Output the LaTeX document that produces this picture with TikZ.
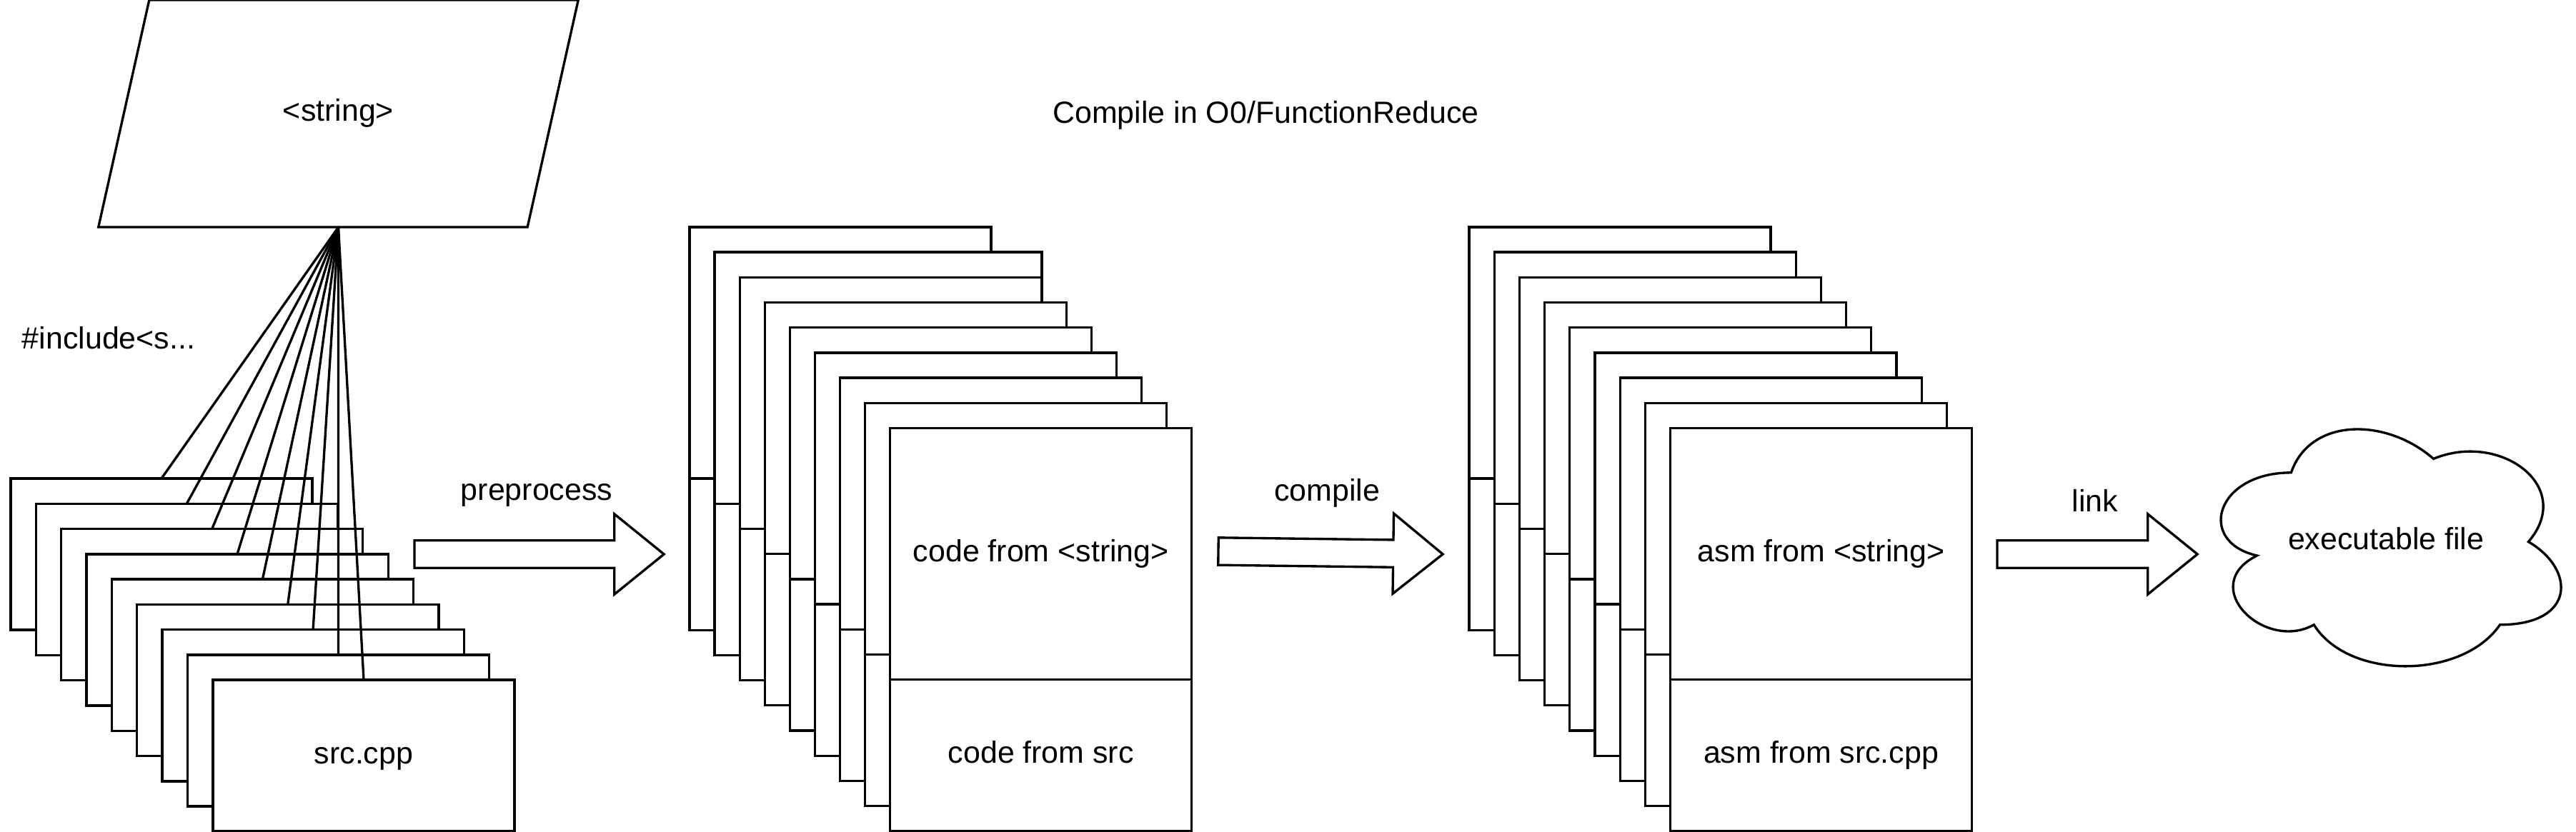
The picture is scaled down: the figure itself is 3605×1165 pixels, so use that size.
\documentclass[tikz,border=0pt]{standalone}
\usepackage{fontspec}
\setmainfont{Liberation Sans}
\usetikzlibrary{positioning, shapes.geometric, shapes.arrows}

\begin{document}
\begin{tikzpicture}[x=0.01cm, y=-0.01cm,
    every node/.style={font=\fontsize{12.2}{14.6}\selectfont, inner sep=0pt, outer sep=0pt, text height=0.31cm, text depth=0.09cm},
    box/.style={draw, line width=0.95pt, fill=white},
    file/.style={box, minimum width=4.22cm, minimum height=2.12cm},
    part/.style={box, minimum width=#1*0.01cm, minimum height=3.52cm},
    lower/.style={box, minimum width=#1*0.01cm, minimum height=2.12cm},
    fat/.style={box, single arrow, single arrow head extend=0.37cm, single arrow tip angle=78,
        minimum width=0pt, minimum height=#1, text height=0.35cm, text depth=0pt, anchor=tail},
    wire/.style={line width=0.95pt}]

    \useasboundingbox (0,0) rectangle (3605,1165);

    \node (title) at (1771.5,161.5) {Compile in O0/FunctionReduce};
    \node[box, trapezium, trapezium left angle=77.4, trapezium right angle=102.6,
        text width=5.29cm, align=center, text height=1.70cm, text depth=1.48cm] (str) at (473.5,159) {<string>};
    \node[anchor=west] (inc) at (31,478) {\#include<s...};

    % source files
    \foreach \i in {0,...,7}
        \node[file] (src\i) at ({226+35.35*\i},{776+35.3*\i}) {};
    \node[file] (src8) at (509,1058) {src.cpp};
    \foreach \i in {0,...,8}
        \draw[wire] (str.south) -- (src\i.north);

    % preprocess
    \node[fat=3.49cm] (pre) at (580,776) {};
    \node (prelbl) at (751,690) {preprocess};

    % preprocessed code
    \foreach \i/\w in {0/422,1/458,2/422,3/422,4/422,5/422,6/422,7/422} {
        \node[part=\w] (code\i) at ({965+35.1*\i+\w/2},{494+35.2*\i}) {};
        \node[lower=\w, below=0pt of code\i] (codesrc\i) {};
    }
    \node[part=422] (code8) at (1456.8,775.6) {code from <string>};
    \node[lower=422, below=0pt of code8] (codesrc8) {code from src};

    % compile
    \node[fat=3.14cm, rotate=-0.73] (cmp) at (1705,772) {};
    \node (cmplbl) at (1857,691) {compile};

    % assembly
    \foreach \i in {0,...,7} {
        \node[part=422] (asm\i) at ({2267+35.2*\i},{494+35.2*\i}) {};
        \node[lower=422, below=0pt of asm\i] (asmsrc\i) {};
    }
    \node[part=422] (asm8) at (2548.6,775.6) {asm from <string>};
    \node[lower=422, below=0pt of asm8] (asmsrc8) {asm from src.cpp};

    % link
    \node[fat=2.80cm] (lnk) at (2795,776) {};
    \node (lnklbl) at (2932,706) {link};

    \begin{scope}[shift={(3073.5,565)}, x=5.31cm, y=-3.87cm]
        \draw[box] (0.25,0.25) .. controls (0.05,0.25) and (0,0.5) .. (0.16,0.55)
            .. controls (0,0.66) and (0.18,0.9) .. (0.31,0.8)
            .. controls (0.4,1) and (0.7,1) .. (0.8,0.8)
            .. controls (1,0.8) and (1,0.6) .. (0.875,0.5)
            .. controls (1,0.3) and (0.8,0.1) .. (0.625,0.2)
            .. controls (0.5,0.05) and (0.3,0.05) .. (0.25,0.25) -- cycle;
        \node (exe) at (0.5,0.5) {executable file};
    \end{scope}

\end{tikzpicture}
\end{document}
